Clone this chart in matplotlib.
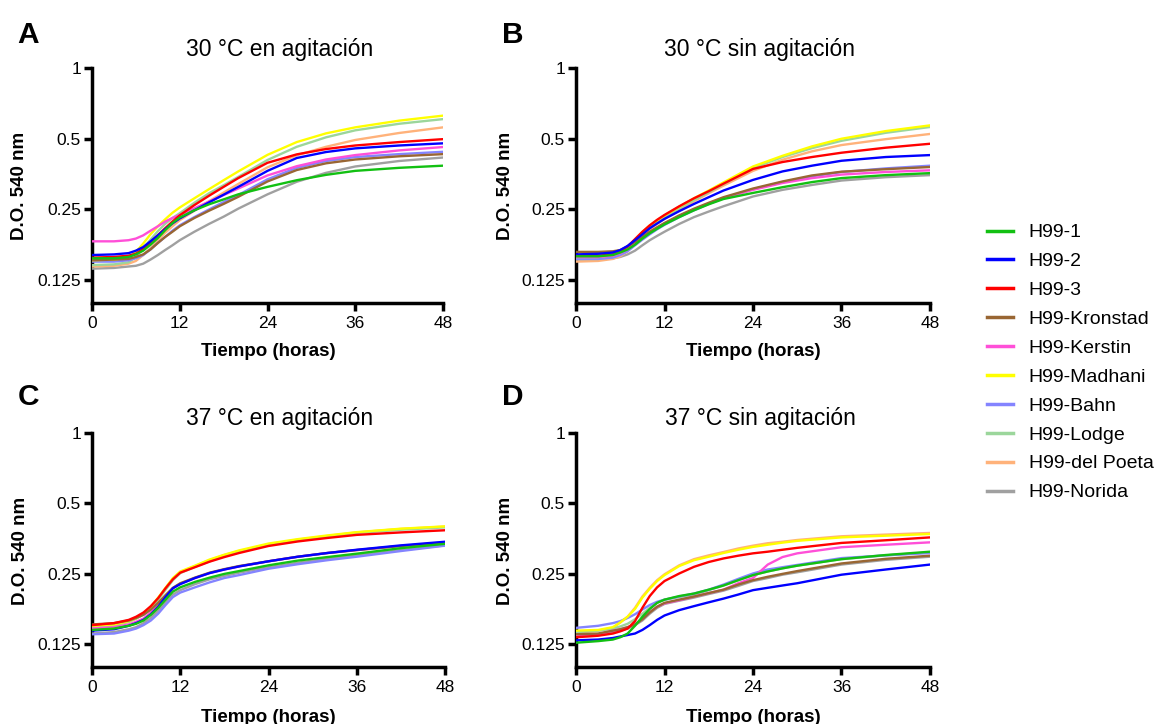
import matplotlib
matplotlib.use("Agg")
import matplotlib.pyplot as plt
from matplotlib.ticker import FixedLocator, FixedFormatter, NullLocator

plt.rcParams['font.family'] = ['Liberation Sans', 'DejaVu Sans']

# ---------------- data ----------------
hours = [0, 3, 5, 6, 7, 8, 9, 10, 11, 12, 14, 16, 18, 20, 24, 28, 32, 36, 42, 48]
hours_d = [0, 3, 5, 6, 7, 8, 9, 10, 11, 12, 14, 16, 18, 20, 22, 24, 26, 28, 30, 36, 42, 48]

strains = ["H99-1", "H99-2", "H99-3", "H99-Kronstad", "H99-Kerstin",
           "H99-Madhani", "H99-Bahn", "H99-Lodge", "H99-del Poeta", "H99-Norida"]

# A: 30 °C en agitación
od_30_shake = {
    "H99-1":         [.155, .155, .157, .161, .167, .177, .189, .204, .219, .231, .248, .263, .276, .290, .312, .333, .351, .365, .376, .384],
    "H99-2":         [.160, .161, .163, .167, .173, .183, .194, .206, .218, .229, .248, .268, .289, .312, .365, .414, .439, .455, .468, .478],
    "H99-3":         [.156, .157, .159, .162, .170, .181, .194, .208, .222, .236, .261, .286, .312, .340, .395, .429, .452, .468, .484, .498],
    "H99-Kronstad":  [.152, .153, .154, .157, .161, .169, .180, .191, .201, .212, .230, .247, .264, .283, .329, .368, .393, .408, .421, .430],
    "H99-Kerstin":   [.183, .183, .185, .188, .194, .203, .212, .222, .230, .237, .253, .270, .288, .307, .349, .382, .408, .426, .446, .461],
    "H99-Madhani":   [.152, .153, .156, .165, .179, .196, .212, .227, .242, .255, .279, .305, .333, .363, .427, .484, .527, .559, .597, .627],
    "H99-Bahn":      [.150, .150, .152, .155, .160, .169, .180, .191, .203, .214, .232, .250, .269, .288, .336, .376, .402, .418, .430, .440],
    "H99-Lodge":     [.145, .146, .149, .157, .171, .186, .202, .217, .230, .241, .267, .293, .317, .344, .406, .462, .507, .543, .579, .606],
    "H99-del Poeta": [.143, .144, .147, .151, .160, .171, .185, .199, .212, .225, .247, .271, .295, .321, .378, .425, .462, .494, .529, .559],
    "H99-Norida":    [.140, .141, .143, .144, .147, .153, .160, .168, .176, .185, .201, .217, .233, .252, .290, .328, .358, .381, .402, .416],
}

# B: 30 °C sin agitación
od_30_static = {
    "H99-1":         [.158, .158, .160, .164, .169, .177, .188, .198, .207, .216, .232, .248, .263, .277, .294, .311, .327, .340, .350, .357],
    "H99-2":         [.161, .162, .164, .168, .175, .185, .196, .208, .218, .228, .246, .264, .282, .301, .334, .363, .384, .403, .418, .426],
    "H99-3":         [.159, .159, .161, .166, .174, .187, .201, .214, .226, .237, .258, .279, .299, .322, .372, .398, .418, .436, .458, .476],
    "H99-Kronstad":  [.165, .165, .166, .168, .174, .182, .191, .201, .210, .219, .236, .252, .267, .282, .307, .329, .349, .362, .371, .379],
    "H99-Kerstin":   [.157, .157, .159, .163, .169, .179, .189, .200, .209, .218, .234, .250, .265, .280, .303, .324, .340, .352, .361, .367],
    "H99-Madhani":   [.157, .157, .160, .164, .173, .186, .200, .214, .225, .236, .257, .279, .301, .326, .381, .423, .464, .500, .539, .570],
    "H99-Bahn":      [.154, .154, .156, .160, .166, .176, .186, .196, .206, .215, .232, .248, .264, .279, .305, .327, .346, .361, .374, .384],
    "H99-Lodge":     [.154, .154, .157, .161, .169, .182, .196, .210, .222, .232, .253, .274, .296, .321, .375, .418, .456, .490, .530, .561],
    "H99-del Poeta": [.150, .151, .154, .158, .166, .179, .192, .206, .217, .228, .248, .271, .293, .316, .365, .407, .442, .470, .498, .524],
    "H99-Norida":    [.153, .153, .155, .157, .161, .167, .176, .185, .193, .201, .217, .232, .245, .258, .284, .303, .318, .332, .343, .350],
}

# C: 37 °C en agitación
od_37_shake = {
    "H99-1":         [.144, .146, .150, .153, .158, .167, .179, .194, .210, .219, .231, .241, .250, .257, .272, .285, .295, .305, .322, .336],
    "H99-2":         [.143, .145, .150, .154, .159, .168, .181, .199, .217, .226, .240, .252, .261, .269, .283, .296, .307, .317, .331, .343],
    "H99-3":         [.151, .154, .159, .164, .171, .182, .197, .217, .237, .253, .267, .282, .295, .307, .329, .344, .356, .367, .376, .384],
    "H99-Kronstad":  [.152, .154, .158, .162, .167, .176, .188, .203, .218, .228, .241, .253, .262, .270, .283, .296, .307, .316, .329, .339],
    "H99-Kerstin":   [.146, .148, .152, .156, .161, .171, .183, .200, .217, .227, .240, .252, .261, .269, .283, .296, .307, .316, .329, .341],
    "H99-Madhani":   [.150, .152, .157, .162, .169, .181, .198, .218, .240, .256, .271, .288, .302, .315, .337, .352, .365, .377, .390, .399],
    "H99-Bahn":      [.138, .139, .143, .146, .151, .158, .169, .184, .199, .208, .219, .230, .240, .247, .263, .275, .286, .296, .313, .330],
    "H99-Lodge":     [.148, .151, .156, .161, .168, .179, .194, .214, .235, .252, .268, .283, .299, .311, .332, .348, .361, .374, .386, .395],
    "H99-del Poeta": [.147, .150, .156, .161, .168, .179, .196, .217, .238, .253, .270, .286, .301, .313, .334, .350, .363, .376, .389, .398],
    "H99-Norida":    [.139, .141, .145, .148, .154, .162, .174, .189, .204, .213, .226, .237, .245, .253, .267, .279, .291, .300, .316, .331],
}

# D: 37 °C sin agitación
od_37_static = {
    "H99-1":         [.127, .129, .131, .134, .139, .150, .164, .177, .188, .194, .201, .206, .214, .223, .235, .247, .256, .264, .271, .289, .301, .311],
    "H99-2":         [.130, .131, .133, .135, .137, .139, .144, .151, .159, .166, .175, .182, .189, .196, .204, .213, .218, .223, .228, .248, .261, .274],
    "H99-3":         [.134, .136, .139, .142, .146, .157, .179, .201, .219, .233, .251, .268, .281, .291, .299, .306, .311, .317, .323, .339, .348, .358],
    "H99-Kronstad":  [.138, .139, .143, .145, .148, .152, .160, .171, .181, .188, .194, .200, .207, .214, .225, .235, .243, .250, .257, .277, .290, .299],
    "H99-Kerstin":   [.137, .138, .143, .145, .148, .152, .161, .172, .181, .187, .193, .200, .207, .214, .228, .240, .274, .295, .306, .325, .333, .341],
    "H99-Madhani":   [.143, .144, .148, .155, .164, .177, .198, .216, .233, .247, .270, .286, .296, .307, .317, .326, .333, .340, .346, .358, .364, .370],
    "H99-Bahn":      [.147, .150, .154, .157, .162, .168, .176, .184, .190, .194, .200, .206, .214, .225, .238, .251, .261, .267, .273, .292, .300, .307],
    "H99-Lodge":     [.141, .143, .146, .149, .153, .160, .169, .179, .188, .194, .199, .204, .213, .223, .235, .247, .256, .264, .271, .289, .300, .309],
    "H99-del Poeta": [.140, .143, .147, .155, .164, .179, .200, .218, .235, .249, .272, .289, .300, .310, .321, .330, .338, .343, .349, .362, .368, .374],
    "H99-Norida":    [.137, .138, .141, .143, .146, .151, .158, .169, .179, .186, .192, .198, .205, .212, .222, .233, .240, .248, .254, .274, .287, .296],
}

colors = ["#12c012", "#0000ff", "#ff0000", "#996633", "#ff4fd8",
          "#ffff00", "#8484ff", "#9bd69b", "#ffb27a", "#a0a0a0"]

x_ticks = [0, 12, 24, 36, 48]
y_ticks = [0.125, 0.25, 0.5, 1]
y_tick_labels = ["0.125", "0.25", "0.5", "1"]

# ---------------- figure ----------------
W, H = 1162, 724
fig = plt.figure(figsize=(W / 100, H / 100), dpi=100)


def rect(l, t, r, b):
    return [l / W, 1 - b / H, (r - l) / W, (b - t) / H]


def fx(px):
    return px / W


def fy(py):
    return 1 - py / H


panels = [
    (od_30_shake, hours, rect(92, 68, 443, 303), "A", "30 °C en agitación",
     (17, 43), (280, 56), (20, 186), (268, 356)),
    (od_30_static, hours, rect(576, 68, 930, 303), "B", "30 °C sin agitación",
     (502, 43), (760, 56), (505, 186), (753, 356)),
    (od_37_shake, hours, rect(92, 433, 445, 667), "C", "37 °C en agitación",
     (18, 405), (280, 425), (21, 551), (268, 722)),
    (od_37_static, hours_d, rect(576, 433, 930, 667), "D", "37 °C sin agitación",
     (502, 405), (760, 425), (506, 551), (753, 722)),
]

first_lines = None
for data, tt, r, letter, title, lpos, tpos, ypos, xpos in panels:
    ax = fig.add_axes(r)
    lines = []
    for i, s in enumerate(strains):
        ln, = ax.plot(tt, data[s], color=colors[i], lw=1.7, zorder=20 - i,
                      solid_joinstyle="round")
        lines.append(ln)
    if first_lines is None:
        first_lines = lines
    ax.set_yscale("log", base=2)
    ax.set_ylim(0.1, 1)
    ax.set_xlim(0, 48)
    ax.xaxis.set_major_locator(FixedLocator(x_ticks))
    ax.yaxis.set_major_locator(FixedLocator(y_ticks))
    ax.yaxis.set_major_formatter(FixedFormatter(y_tick_labels))
    ax.yaxis.set_minor_locator(NullLocator())
    ax.xaxis.set_minor_locator(NullLocator())
    for sp in ("top", "right"):
        ax.spines[sp].set_visible(False)
    for sp in ("left", "bottom"):
        ax.spines[sp].set_linewidth(2.5)
    ax.tick_params(axis="both", width=2.5, length=6, labelsize=12.5,
                   colors="black")
    ax.tick_params(axis="x", pad=3.5)
    ax.tick_params(axis="y", pad=2)

    fig.text(fx(lpos[0]), fy(lpos[1]), letter, fontsize=21.5, fontweight="bold",
             ha="left", va="baseline")
    fig.text(fx(tpos[0]), fy(tpos[1]), title, fontsize=16.5, ha="center",
             va="baseline")
    fig.text(fx(ypos[0]), fy(ypos[1]), "D.O. 540 nm", fontsize=13.5,
             fontweight="bold", rotation=90, ha="center", va="center")
    fig.text(fx(xpos[0]), fy(xpos[1]), "Tiempo (horas)", fontsize=13.5,
             fontweight="bold", ha="center", va="baseline")

leg = fig.legend(first_lines, strains, loc="center left",
                 bbox_to_anchor=(fx(987), fy(362.5)), frameon=False,
                 fontsize=14, handlelength=1.35, handletextpad=0.8,
                 labelspacing=0.58, borderpad=0, borderaxespad=0)
for h in leg.get_lines():
    h.set_linewidth(2.5)

fig.savefig("out.png", dpi=100)
